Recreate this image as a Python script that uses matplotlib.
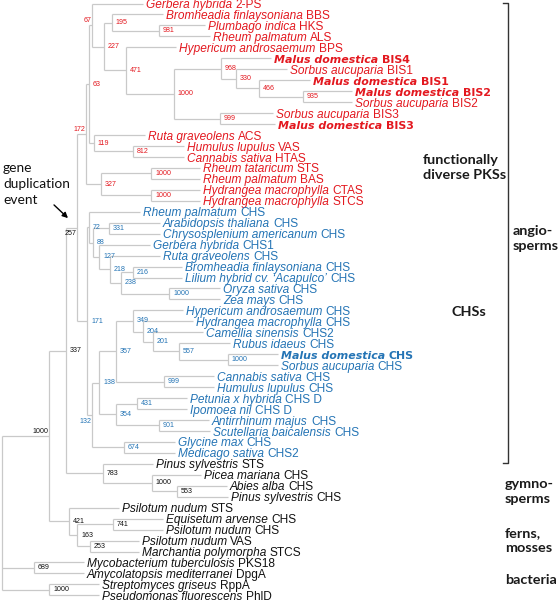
import matplotlib
matplotlib.use("Agg")
import matplotlib.pyplot as plt

# ---------------- data ----------------
tip_species = [
    "Gerbera hybrida", "Bromheadia finlaysoniana", "Plumbago indica", "Rheum palmatum",
    "Hypericum androsaemum", "Malus domestica", "Sorbus aucuparia", "Malus domestica",
    "Malus domestica", "Sorbus aucuparia", "Sorbus aucuparia", "Malus domestica",
    "Ruta graveolens", "Humulus lupulus", "Cannabis sativa", "Rheum tataricum",
    "Rheum palmatum", "Hydrangea macrophylla", "Hydrangea macrophylla",
    "Rheum palmatum", "Arabidopsis thaliana", "Chrysosplenium americanum", "Gerbera hybrida",
    "Ruta graveolens", "Bromheadia finlaysoniana", "Lilium hybrid cv. \u2018Acapulco\u2019",
    "Oryza sativa", "Zea mays", "Hypericum androsaemum", "Hydrangea macrophylla",
    "Camellia sinensis", "Rubus idaeus", "Malus domestica", "Sorbus aucuparia",
    "Cannabis sativa", "Humulus lupulus", "Petunia x hybrida", "Ipomoea nil",
    "Antirrhinum majus", "Scutellaria baicalensis", "Glycine max", "Medicago sativa",
    "Pinus sylvestris", "Picea mariana", "Abies alba", "Pinus sylvestris",
    "Psilotum nudum", "Equisetum arvense", "Psilotum nudum", "Psilotum nudum",
    "Marchantia polymorpha", "Mycobacterium tuberculosis", "Amycolatopsis mediterranei",
    "Streptomyces griseus", "Pseudomonas fluorescens",
]
tip_gene = [
    "2-PS", "BBS", "HKS", "ALS", "BPS", "BIS4", "BIS1", "BIS1", "BIS2", "BIS2", "BIS3", "BIS3",
    "ACS", "VAS", "HTAS", "STS", "BAS", "CTAS", "STCS",
    "CHS", "CHS", "CHS", "CHS1", "CHS", "CHS", "CHS", "CHS", "CHS", "CHS", "CHS", "CHS2",
    "CHS", "CHS", "CHS", "CHS", "CHS", "CHS D", "CHS D", "CHS", "CHS", "CHS", "CHS2",
    "STS", "CHS", "CHS", "CHS", "STS", "CHS", "CHS", "VAS", "STCS",
    "PKS18", "DpgA", "RppA", "PhlD",
]
tip_parent = [
    "r67", "r195", "r981", "r981", "r471", "r968", "r330", "r466", "r935", "r935",
    "r999", "r999", "r119", "r812", "r812", "r1000b", "r1000b", "r1000c", "r1000c",
    "c72", "c331", "c331", "c127", "c218", "c216", "c216", "c1000a", "c1000a",
    "c349", "c204", "c201", "c557", "c1000b", "c1000b", "c999", "c999",
    "c431", "c431", "c901", "c901", "c674", "c674",
    "g783", "g1000", "g553", "g553", "n421", "f741", "f741", "f253", "f253",
    "b689", "b689", "b1000", "b1000",
]
tip_depth = [
    143, 163, 205, 210, 176, 271, 287, 310, 352, 352, 273, 275,
    145, 184, 184, 200, 200, 200, 200,
    140, 160, 160, 150, 160, 182, 182, 220, 220, 183, 193, 203, 230, 278, 278,
    214, 214, 187, 187, 209, 210, 175, 175,
    153, 201, 227, 228, 119, 163, 163, 139, 139,
    84, 84, 99, 99,
]
tip_group = ["r"] * 19 + ["b"] * 23 + ["k"] * 13
tip_bold = [i in (5, 7, 8, 11, 32) for i in range(55)]

node_name = [
    "root", "n1000", "b689", "b1000", "n337", "n421", "n257", "g783", "g1000", "g553",
    "f163", "f741", "f253", "r172", "c171", "r63", "r327", "r67", "r119", "r227",
    "r195", "r981", "r471", "r1000a", "r968", "r330", "r466", "r935", "r999", "r812",
    "r1000b", "r1000c", "c72", "c88", "c331", "c127", "c218", "c238", "c216", "c1000a",
    "c132", "c138", "c357", "c349", "c204", "c201", "c557", "c1000b", "c999", "c354",
    "c431", "c901", "c674",
]
node_parent = [
    None, "root", "root", "root", "n1000", "n1000", "n337", "n337", "g783", "g1000",
    "n421", "f163", "f163", "n257", "n257", "r172", "r172", "r63", "r63", "r67",
    "r227", "r195", "r227", "r471", "r1000a", "r968", "r330", "r466", "r1000a", "r119",
    "r327", "r327", "c171", "c72", "c88", "c88", "c127", "c218", "c238", "c238",
    "c171", "c132", "c138", "c357", "c349", "c204", "c201", "c557", "c357", "c138",
    "c354", "c354", "c132",
]
node_depth = [
    2, 49, 34, 49, 66, 69, 77, 103, 152, 177,
    77, 113, 90, 86, 87, 88.5, 101, 92, 94, 104,
    112, 159, 125.7, 174, 220.7, 236, 259, 303, 220, 133,
    151, 151, 89, 93, 109, 99, 110, 121, 133, 169,
    92, 99, 116, 133, 143, 153, 179, 228, 164, 116,
    137, 159, 124,
]
node_support = [
    None, 1000, 689, 1000, 337, 421, 257, 783, 1000, 553,
    163, 741, 253, 172, 171, 63, 327, 67, 119, 227,
    195, 981, 471, 1000, 968, 330, 466, 935, 999, 812,
    1000, 1000, 72, 88, 331, 127, 218, 238, 216, 1000,
    132, 138, 357, 349, 204, 201, 557, 1000, 999, 354,
    431, 901, 674,
]

clade_names = ["functionally\ndiverse PKSs", "CHSs", "angio-\nsperms",
               "gymno-\nsperms", "ferns,\nmosses", "bacteria"]

# ---------------- style ----------------
RED = "#e3181f"
BLUE = "#2474b5"
BLACK = "#111111"
LINE = "#c9c9c9"
col = {"r": RED, "b": BLUE, "k": BLACK}
label_side = {"n1000": "above", "r67": "above", "r172": "above",
              "n257": "below", "c132": "below"}

W, H = 558, 604
fig = plt.figure(figsize=(W / 100, H / 100), dpi=100)
ax = fig.add_axes([0, 0, 1, 1])
ax.set_xlim(0, W)
ax.set_ylim((H - 3.5) / 10.96, -3.5 / 10.96)
ax.axis("off")
px = 1 / 10.96  # one pixel in leaf-index units

# ---------------- tree layout ----------------
children = {n: [] for n in node_name}
for i, p in enumerate(tip_parent):
    children[p].append(("tip", i))
for n, p in zip(node_name, node_parent):
    if p is not None:
        children[p].append(("node", n))
ndx = dict(zip(node_name, node_depth))
nsup = dict(zip(node_name, node_support))
ny = {}


def get_y(kind, key):
    if kind == "tip":
        return float(key)
    if key not in ny:
        ys = [get_y(k, c) for k, c in children[key]]
        ny[key] = (min(ys) + max(ys)) / 2
    return ny[key]


for n in node_name:
    get_y("node", n)

for n in node_name:
    cys = [get_y(k, c) for k, c in children[n]]
    ax.vlines(ndx[n], min(cys), max(cys), color=LINE, lw=0.9)
    for k, c in children[n]:
        cx = tip_depth[c] if k == "tip" else ndx[c]
        ax.hlines(get_y(k, c), ndx[n], cx, color=LINE, lw=0.9)

for n in node_name:
    s = nsup[n]
    if s is None:
        continue
    c = RED if n.startswith("r") else BLUE if n.startswith("c") else BLACK
    side = label_side.get(n)
    if side is None:
        ax.text(ndx[n] + 4, ny[n], str(s), fontsize=5.1, color=c,
                ha="left", va="center", family="Liberation Sans")
    else:
        dy = -4.5 * px if side == "above" else 6 * px
        ax.text(ndx[n] - 0.5, ny[n] + dy, str(s), fontsize=5.1, color=c,
                ha="right", va="center", family="Liberation Sans")

# tip labels
fig.canvas.draw()
rend = fig.canvas.get_renderer()
FS = 8.6
for i in range(len(tip_species)):
    c = col[tip_group[i]]
    if tip_bold[i]:
        fam, w, fs, gap = "DejaVu Sans", "bold", 7.9, 3.8
    else:
        fam, w, fs, gap = "Liberation Sans", "normal", FS, 3.3
    x0 = tip_depth[i] + 3
    t = ax.text(x0, i + 1.6 * px, tip_species[i], fontsize=fs, style="italic",
                weight=w, color=c, ha="left", va="center", family=fam)
    bb = t.get_window_extent(rend)
    ax.text(x0 + bb.width + gap, i + 1.6 * px, tip_gene[i], fontsize=fs,
            weight=w, color=c, ha="left", va="center", family=fam)

# ---------------- annotations ----------------
AF = ["Lato", "DejaVu Sans"]
ax.text(3, 16.5, "gene\nduplication\nevent", fontsize=9.9, family=AF,
        ha="left", va="center", linespacing=1.4, color=BLACK)
ax.annotate("", xy=(ndx["n257"] - 7, ny["n257"] - 0.7),
            xytext=(ndx["n257"] - 25, ny["n257"] - 2.25),
            arrowprops=dict(arrowstyle="-|>", color="black", lw=1.0,
                            mutation_scale=8))

kw = dict(fontsize=10.4, family=AF, weight="bold", color="#1a1a1a",
          ha="left", va="center", linespacing=1.3)
ax.text(423, 15.0, clade_names[0], **kw)
ax.text(451, 28.15, clade_names[1], **kw)
ax.text(513, 21.4, clade_names[2], **kw)
ax.text(505, 44.5, clade_names[3], **kw)
ax.text(505, 49.0, clade_names[4], **kw)
ax.text(505, 52.6, clade_names[5], **kw)

btop, bbot = -0.05, 41.9
ax.plot([503, 508, 508, 503], [btop, btop, bbot, bbot], color="#333333", lw=1.0)

fig.savefig("out.png", dpi=100)
